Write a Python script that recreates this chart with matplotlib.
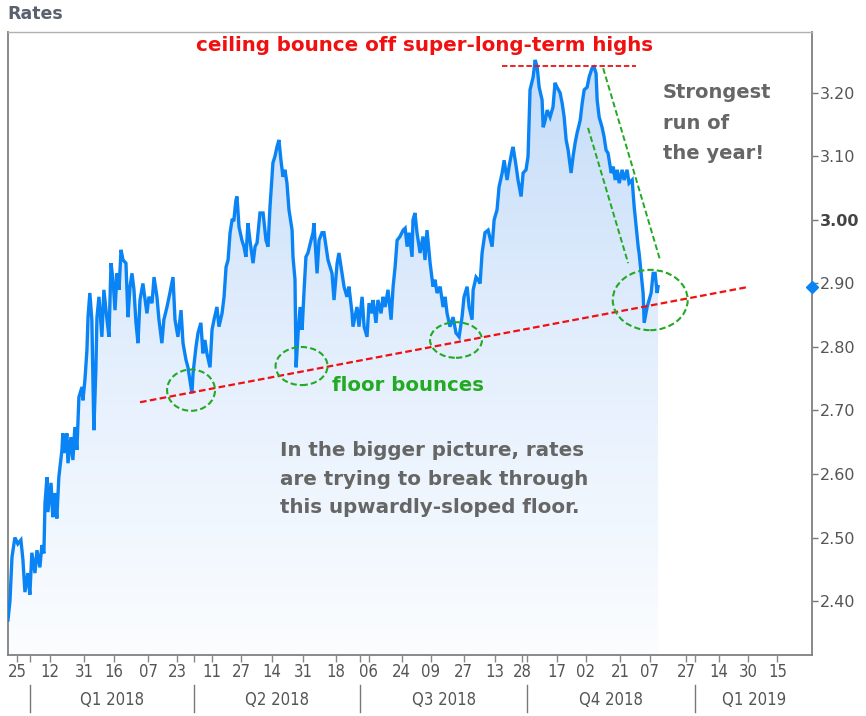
from datetime import datetime

import matplotlib
matplotlib.use("Agg")
import matplotlib.dates as mdates
import matplotlib.pyplot as plt
import numpy as np
from matplotlib.colors import LinearSegmentedColormap
from matplotlib.patches import Ellipse

# rate series (days after 2017-12-25 -> rate)
BASE_DATE = datetime(2017, 12, 25)
days = [
    -4.9, -3.8, -2.7, -1.1, 0.5, 2.2, 3.3, 4.4, 6.0, 7.1,
    8.2, 9.9, 11.0, 12.6, 13.7, 14.8, 15.4, 16.5, 17.0, 18.7,
    19.7, 20.8, 21.9, 23.0, 24.7, 25.2, 26.3, 27.4, 28.0, 29.6,
    30.7, 31.8, 32.9, 34.0, 35.7, 36.2, 37.3, 38.4, 39.0, 40.0,
    41.1, 42.2, 43.3, 43.9, 45.0, 46.6, 47.7, 49.4, 50.5, 51.6,
    52.7, 53.8, 54.9, 56.0, 57.1, 58.2, 59.8, 60.9, 62.0, 63.1,
    64.2, 65.3, 66.4, 67.5, 69.1, 71.3, 72.4, 74.1, 75.2, 76.8,
    77.9, 79.5, 80.6, 82.3, 83.9, 85.6, 86.7, 88.3, 90.0, 91.1,
    92.7, 93.8, 96.0, 96.6, 98.2, 99.3, 100.9, 102.0, 103.1, 104.2,
    105.9, 107.0, 108.1, 109.7, 110.8, 112.5, 113.6, 114.7, 115.8, 116.9,
    118.0, 119.0, 120.1, 120.7, 121.8, 123.4, 124.5, 125.6, 126.7, 127.8,
    129.5, 130.6, 131.7, 133.3, 135.0, 136.6, 137.7, 138.8, 140.4, 141.5,
    142.6, 143.7, 144.8, 145.9, 147.0, 148.1, 149.2, 150.9, 151.4, 152.5,
    153.1, 154.2, 155.3, 156.4, 157.5, 158.5, 159.6, 161.3, 162.4, 162.9,
    164.6, 165.7, 167.3, 168.4, 169.5, 170.6, 172.8, 173.9, 175.6, 176.6,
    178.3, 179.4, 181.0, 182.1, 183.8, 184.3, 186.5, 187.6, 189.3, 190.4,
    192.0, 193.1, 194.8, 195.3, 196.9, 198.0, 199.7, 200.8, 201.9, 203.5,
    205.2, 206.3, 207.4, 208.5, 210.1, 211.8, 212.9, 214.0, 215.1, 216.7,
    217.2, 218.3, 219.4, 221.1, 222.7, 223.8, 224.9, 226.6, 228.2, 229.3,
    230.4, 232.1, 233.7, 234.8, 235.9, 237.5, 239.2, 240.8, 242.5, 244.1,
    245.2, 246.9, 248.0, 249.6, 250.2, 251.8, 252.9, 254.0, 255.1, 256.7,
    258.4, 260.6, 261.7, 263.3, 264.4, 266.1, 267.2, 268.8, 269.9, 271.6,
    272.1, 273.8, 274.8, 276.5, 277.6, 279.2, 280.3, 281.4, 283.1, 284.2,
    285.3, 286.4, 288.0, 288.6, 289.7, 290.8, 292.4, 294.0, 295.1, 296.2,
    297.9, 299.0, 300.1, 301.2, 302.3, 303.9, 305.0, 306.1, 307.2, 308.9,
    310.0, 311.1, 312.7, 313.8, 315.4, 316.5, 317.6, 318.2, 319.3, 320.9,
    322.0, 323.1, 324.2, 325.9, 327.0, 328.1, 329.2, 330.3, 331.9, 333.0,
    334.6, 335.7, 337.4, 338.5, 339.6, 340.7, 341.2, 342.3, 343.4, 344.0,
    345.6, 346.7, 347.8, 348.9, 350.0, 351.1, 351.6,
]
rates = [
    2.370, 2.400, 2.469, 2.500, 2.490, 2.496, 2.465, 2.414, 2.444, 2.410,
    2.476, 2.444, 2.480, 2.453, 2.488, 2.475, 2.554, 2.595, 2.540, 2.586,
    2.532, 2.570, 2.530, 2.595, 2.638, 2.664, 2.633, 2.664, 2.617, 2.658,
    2.622, 2.674, 2.638, 2.721, 2.737, 2.716, 2.748, 2.795, 2.847, 2.885,
    2.843, 2.669, 2.764, 2.847, 2.879, 2.816, 2.890, 2.843, 2.816, 2.932,
    2.906, 2.858, 2.916, 2.890, 2.953, 2.937, 2.932, 2.847, 2.894, 2.916,
    2.890, 2.838, 2.806, 2.874, 2.900, 2.853, 2.879, 2.869, 2.910, 2.879,
    2.843, 2.806, 2.843, 2.863, 2.885, 2.910, 2.843, 2.816, 2.858, 2.806,
    2.780, 2.768, 2.727, 2.759, 2.800, 2.822, 2.838, 2.790, 2.811, 2.790,
    2.768, 2.827, 2.843, 2.863, 2.832, 2.853, 2.879, 2.926, 2.937, 2.980,
    3.000, 3.000, 3.031, 3.037, 2.989, 2.968, 2.958, 2.942, 2.995, 2.968,
    2.932, 2.958, 2.964, 3.011, 3.011, 2.968, 2.958, 3.021, 3.090, 3.100,
    3.115, 3.126, 3.094, 3.068, 3.079, 3.058, 3.016, 2.984, 2.942, 2.906,
    2.768, 2.822, 2.863, 2.827, 2.890, 2.942, 2.948, 2.968, 2.980, 2.995,
    2.916, 2.968, 2.980, 2.980, 2.958, 2.937, 2.916, 2.874, 2.932, 2.948,
    2.916, 2.895, 2.879, 2.895, 2.853, 2.832, 2.863, 2.832, 2.879, 2.832,
    2.816, 2.869, 2.853, 2.874, 2.838, 2.874, 2.853, 2.879, 2.863, 2.890,
    2.843, 2.895, 2.926, 2.968, 2.974, 2.984, 2.987, 2.958, 2.980, 2.942,
    3.000, 3.011, 2.980, 2.948, 2.974, 2.937, 2.984, 2.932, 2.895, 2.906,
    2.885, 2.895, 2.863, 2.879, 2.853, 2.832, 2.847, 2.822, 2.816, 2.847,
    2.879, 2.895, 2.863, 2.843, 2.890, 2.910, 2.906, 2.900, 2.948, 2.980,
    2.984, 2.958, 3.000, 3.016, 3.052, 3.074, 3.094, 3.063, 3.084, 3.110,
    3.115, 3.084, 3.063, 3.037, 3.074, 3.079, 3.100, 3.205, 3.225, 3.252,
    3.241, 3.209, 3.189, 3.146, 3.157, 3.173, 3.162, 3.178, 3.216, 3.209,
    3.200, 3.184, 3.162, 3.126, 3.110, 3.074, 3.100, 3.121, 3.137, 3.157,
    3.184, 3.205, 3.209, 3.225, 3.239, 3.241, 3.231, 3.189, 3.162, 3.146,
    3.131, 3.110, 3.105, 3.074, 3.084, 3.063, 3.079, 3.058, 3.079, 3.063,
    3.079, 3.058, 3.063, 3.021, 2.989, 2.958, 2.948, 2.916, 2.885, 2.838,
    2.863, 2.874, 2.885, 2.916, 2.916, 2.885, 2.895,
]

tick_dates = [
    "2017-12-25", "2018-01-12", "2018-01-31", "2018-02-16", "2018-03-07",
    "2018-03-23", "2018-04-11", "2018-04-27", "2018-05-14", "2018-05-31",
    "2018-06-18", "2018-07-06", "2018-07-24", "2018-08-09", "2018-08-27",
    "2018-09-13", "2018-09-28", "2018-10-17", "2018-11-02", "2018-11-21",
    "2018-12-07", "2018-12-27", "2019-01-14", "2019-01-30", "2019-02-15",
]
quarter_starts = ["2018-01-01", "2018-04-01", "2018-07-01", "2018-10-01", "2019-01-01"]
quarter_labels = ["Q1 2018", "Q2 2018", "Q3 2018", "Q4 2018", "Q1 2019"]
y_ticks = [2.40, 2.50, 2.60, 2.70, 2.80, 2.90, 3.00, 3.10, 3.20]

BLUE = "#0a84f5"
GRAY = "#666666"
RED = "#f01010"
GREEN = "#22aa22"
NARROW = ["Liberation Sans Narrow", "DejaVu Sans"]

base = mdates.date2num(BASE_DATE)
x = base + np.array(days)
y = np.array(rates)
x_lo, x_hi = base - 4.9, base + 436
y_lo, y_hi = 2.315, 3.296


def day(n):
    return base + n


fig = plt.figure(figsize=(8.66, 7.16), dpi=100)
ax = fig.add_axes([0.0092, 0.0852, 0.9284, 0.8701])
ax.set_xlim(x_lo, x_hi)
ax.set_ylim(y_lo, y_hi)

# gradient fill under the line
poly = ax.fill_between(x, y, y_lo, color="none", lw=0)
cmap = LinearSegmentedColormap.from_list("fill", ["#fbfdff", "#e4effd", "#c4dcf8"])
grad = np.linspace(0, 1, 256).reshape(-1, 1)
im = ax.imshow(grad, extent=[x_lo, x_hi, y_lo, 3.26], origin="lower",
               aspect="auto", cmap=cmap, zorder=1)
im.set_clip_path(poly.get_paths()[0], transform=ax.transData)
ax.set_xlim(x_lo, x_hi)
ax.set_ylim(y_lo, y_hi)

ax.plot(x, y, color=BLUE, lw=2.4, zorder=3, solid_joinstyle="miter")
ax.plot([x_hi], [rates[-1]], marker="D", ms=6, color=BLUE, clip_on=False, zorder=5)

# annotations
ax.plot([day(266), day(339.6)], [3.243, 3.243], ls=(0, (3, 1.5)), color=RED, lw=1.3, zorder=4)
ax.plot([day(67.5), day(400)], [2.713, 2.894], ls=(0, (3, 1.5)), color=RED, lw=1.6, zorder=4)
ax.plot([day(313.2), day(335.2)], [3.145, 2.932], ls=(0, (3, 1.5)), color=GREEN, lw=1.4, zorder=4)
ax.plot([day(321.5), day(352.7)], [3.239, 2.937], ls=(0, (3, 1.5)), color=GREEN, lw=1.4, zorder=4)
for cx, cy, w, h in [(95.5, 2.732, 26.3, 0.065), (156.1, 2.770, 28.5, 0.060),
                     (240.8, 2.811, 28.5, 0.056), (347.3, 2.874, 41.1, 0.095)]:
    ax.add_patch(Ellipse((day(cx), cy), w, h, fill=False, ec=GREEN,
                         ls=(0, (3, 1.5)), lw=1.5, zorder=4))

ax.text(0.5187, 0.979, "ceiling bounce off super-long-term highs", transform=ax.transAxes,
        ha="center", va="center", color=RED, fontsize=14.3, fontweight="bold")
ax.text(0.403, 0.433, "floor bounces", transform=ax.transAxes, ha="left", va="center",
        color=GREEN, fontsize=14.2, fontweight="bold")
ax.text(0.8147, 0.918, "Strongest\nrun of\nthe year!", transform=ax.transAxes, ha="left",
        va="top", color=GRAY, fontsize=14, fontweight="bold", linespacing=1.78)
ax.text(0.338, 0.343, "In the bigger picture, rates\nare trying to break through\nthis upwardly-sloped floor.",
        transform=ax.transAxes, ha="left", va="top", color=GRAY, fontsize=14.3,
        fontweight="bold", linespacing=1.62)

# y axis on the right
ax.yaxis.tick_right()
ax.set_yticks(y_ticks)
ax.set_yticklabels([f"{v:.2f}" for v in y_ticks])
ax.tick_params(axis="y", length=4, width=1, color="#777777", labelcolor="#555555",
               labelsize=11.5, pad=2)
for lbl in ax.get_yticklabels():
    if lbl.get_text() == "3.00":
        lbl.set_fontweight("bold")
        lbl.set_color("#444444")

# x axis: day ticks plus quarter bands
tick_nums = [mdates.date2num(datetime.fromisoformat(d)) for d in tick_dates]
ax.set_xticks(tick_nums)
ax.set_xticklabels([d[-2:] for d in tick_dates], family=NARROW, fontstretch="condensed")
q_nums = [mdates.date2num(datetime.fromisoformat(d)) for d in quarter_starts]
ax.set_xticks(q_nums, minor=True)
ax.tick_params(axis="x", which="both", length=5, width=1, color="#888888",
               labelcolor="#555555", labelsize=12, pad=1)

trans = ax.get_xaxis_transform()
edges = q_nums + [x_hi]
for i, label in enumerate(quarter_labels):
    ax.plot([q_nums[i], q_nums[i]], [-0.048, -0.0915], transform=trans, color="#777777",
            lw=1, clip_on=False)
    ax.text((edges[i] + edges[i + 1]) / 2, -0.072, label, transform=trans, ha="center",
            va="center", color="#555555", fontsize=12, family=NARROW,
            fontstretch="condensed")

for side in ["left", "right", "bottom"]:
    ax.spines[side].set_color("#808080")
    ax.spines[side].set_linewidth(1.3)
ax.spines["top"].set_color("#b0b0b0")
ax.spines["top"].set_linewidth(1)

fig.text(0.009, 0.981, "Rates", ha="left", va="center", color="#5a6070", fontsize=12.5,
         fontweight="bold")

fig.savefig("out.png", dpi=100, facecolor="white")
